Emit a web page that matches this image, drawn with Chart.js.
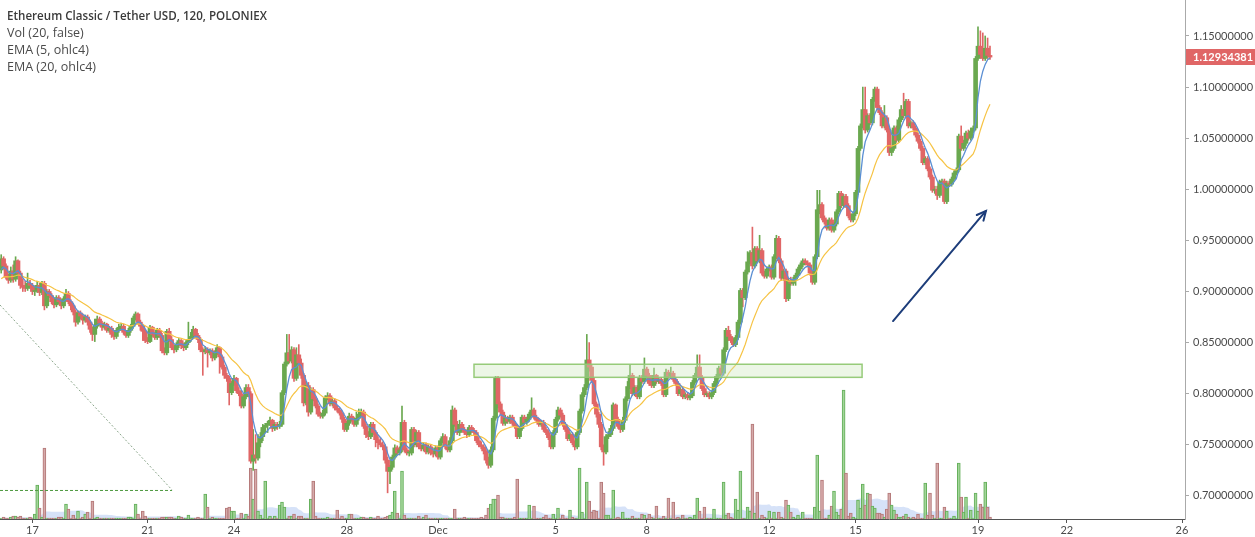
<!DOCTYPE html>
<html><head><meta charset="utf-8">
<script src="https://cdn.jsdelivr.net/npm/chart.js@4.4.0/dist/chart.umd.min.js"></script>
<style>
html,body{margin:0;padding:0;background:#fff;}
#wrap{position:relative;width:1255px;height:537px;overflow:hidden;}
canvas{position:absolute;left:0;top:0;}
.lg{position:absolute;left:7px;font-family:"Open Sans",sans-serif;font-size:12.5px;color:#4a4a4a;white-space:nowrap;line-height:14px;}
</style></head><body>
<div id="wrap"><canvas id="c" width="1255" height="537"></canvas>
<div class="lg" style="top:9px;font-weight:600;font-size:11.6px;color:#3a3a3a">Ethereum Classic / Tether USD, 120, POLONIEX</div>
<div class="lg" style="top:26px">Vol (20, false)</div>
<div class="lg" style="top:43px">EMA (5, ohlc4)</div>
<div class="lg" style="top:60px">EMA (20, ohlc4)</div>
</div>
<script>
// prices in thousandths of USDT (2h candles)
const firstOpen = 921;
const closes = [932,925,914,911,920,912,930,918,906,904,
903,908,906,900,901,906,899,908,886,900,
896,890,887,894,890,886,893,898,890,886,
880,870,879,876,872,875,870,863,858,866,
873,869,865,868,862,864,858,856,862,865,
866,860,857,862,866,874,878,870,866,861,
852,851,865,858,855,862,857,842,840,861,
853,845,843,848,852,847,845,850,853,856,
863,857,853,843,841,843,840,842,835,840,
845,836,826,818,815,801,810,815,803,800,
788,797,806,800,734,740,737,752,758,767,
769,771,774,766,770,768,770,801,829,840,
832,843,815,838,830,818,791,808,782,804,
795,788,780,778,781,796,798,790,793,786,
784,781,775,765,771,778,775,770,776,780,
782,768,760,758,770,762,755,752,750,748,
735,724,728,738,747,742,745,772,745,742,
742,765,750,762,748,746,750,743,748,742,
741,747,738,754,758,748,745,754,784,770,
762,770,765,762,760,767,764,762,754,750,
748,744,735,730,745,776,815,790,782,771,
776,773,777,771,768,758,766,777,772,775,
780,784,777,774,770,772,765,762,757,748,
762,775,784,779,770,765,756,760,752,748,
762,783,799,806,833,826,813,790,780,770,
748,743,758,760,766,789,775,768,765,774,
795,807,818,800,806,797,815,812,824,818,
810,808,818,812,814,810,799,821,817,820,
814,810,800,804,797,799,796,798,811,818,
826,816,805,799,800,797,801,810,817,825,
820,843,862,856,852,848,855,870,901,894,
919,929,938,925,942,930,940,918,915,922,
924,914,934,952,930,913,920,893,911,908,
912,916,922,926,930,928,926,918,909,934,
980,985,972,968,962,970,960,966,978,996,
984,993,984,974,970,976,997,1040,1062,1078,
1058,1072,1065,1088,1098,1080,1075,1062,1070,1058,
1036,1040,1060,1048,1068,1078,1072,1086,1062,1065,
1060,1053,1047,1040,1026,1030,1020,1012,999,1000,
994,1007,1008,988,1006,1005,1010,1016,1019,1052,
1040,1045,1055,1050,1057,1060,1128,1140,1132,1128,
1138,1131,1129.34381];
const highs = [936,934,927,917,924,926,934,931,920,912,
910,918,911,908,904,910,908,910,910,902,
902,898,893,896,896,892,895,902,900,892,
888,882,881,881,878,877,877,872,865,873,
876,875,871,870,869,866,866,860,864,868,
869,868,862,864,868,876,880,879,872,868,
863,855,867,866,860,864,864,859,845,863,
864,856,847,850,854,853,849,852,870,860,
866,864,859,855,845,846,845,844,844,842,
848,846,838,828,820,817,812,818,816,806,
803,799,809,809,802,765,760,760,762,770,
771,773,777,775,772,772,773,803,831,858,
858,846,845,845,848,834,820,812,811,806,
806,797,790,782,784,798,801,800,796,795,
788,786,783,777,773,781,780,777,782,785,
785,784,770,763,772,772,764,758,757,753,
750,738,730,740,750,749,748,788,774,747,
744,767,767,764,764,750,752,752,750,750,
744,749,749,756,761,760,750,757,788,786,
773,774,772,767,764,769,769,766,764,757,
753,750,747,738,748,778,817,817,792,784,
779,778,779,779,773,770,768,779,779,777,
782,796,786,779,776,774,774,767,764,759,
764,777,787,786,781,772,767,762,762,754,
764,785,801,809,858,850,828,815,792,782,
772,750,760,763,769,791,790,777,770,777,
797,812,828,820,808,808,818,818,835,826,
820,818,825,819,816,816,812,824,823,826,
822,816,812,806,806,801,801,800,813,820,
838,838,818,807,802,802,803,812,819,827,
828,845,864,866,858,854,857,872,903,903,
921,939,940,963,944,944,955,942,920,924,
926,926,936,955,954,932,922,922,913,914,
914,918,924,928,932,932,930,928,920,936,
999,999,987,974,970,972,972,968,980,998,
998,995,995,986,976,978,999,1042,1064,1100,
1100,1074,1074,1090,1100,1100,1082,1077,1082,1072,
1060,1042,1062,1062,1070,1082,1094,1088,1088,1067,
1067,1062,1055,1049,1042,1032,1032,1022,1014,1003,
1003,1009,1010,1010,1008,1008,1012,1018,1021,1054,
1062,1048,1057,1058,1060,1062,1130,1159,1155,1153,
1150,1148,1140];
const lows = [918,922,912,908,909,909,910,915,903,900,
900,901,903,897,896,899,896,897,882,884,
894,888,884,885,888,883,884,891,888,882,
877,866,868,873,868,870,867,860,852,851,
864,867,862,863,860,860,855,853,854,860,
862,858,855,855,860,864,872,868,862,852,
850,849,850,856,853,853,855,840,838,838,
851,843,840,841,845,844,842,843,848,851,
854,855,850,841,818,839,826,838,832,833,
838,820,824,815,812,789,799,808,801,798,
786,786,795,797,732,725,732,735,748,754,
762,762,769,763,764,765,766,768,799,827,
830,830,812,813,828,815,788,789,778,780,
793,786,778,776,776,779,794,788,788,784,
782,779,772,763,763,769,773,768,768,774,
778,766,757,755,756,760,748,746,748,745,
732,703,712,726,736,740,740,743,743,740,
739,740,748,748,746,744,744,741,741,740,
738,739,736,736,752,746,743,743,752,768,
760,759,763,760,757,758,762,760,752,748,
746,741,732,727,728,743,774,786,779,769,
769,771,771,769,766,756,756,764,770,770,
773,778,775,772,768,768,763,760,755,746,
746,760,773,777,768,763,754,754,750,745,
746,760,781,797,804,822,811,788,777,767,
745,730,741,756,758,764,773,766,762,763,
772,793,805,798,798,795,795,810,810,816,
808,806,806,810,810,808,797,797,815,815,
812,808,798,798,795,795,794,794,796,809,
816,814,803,797,797,795,795,799,808,815,
818,818,841,852,850,846,846,853,868,885,
892,917,927,922,923,928,928,916,913,913,
920,912,912,932,928,911,911,890,891,906,
906,906,914,920,924,926,924,916,907,907,
932,976,970,966,960,960,958,958,964,976,
982,982,982,972,968,968,974,995,1038,1060,
1055,1056,1063,1063,1086,1078,1073,1060,1060,1056,
1033,1033,1038,1046,1046,1066,1070,1070,1060,1060,
1058,1051,1045,1038,1024,1024,1018,1010,997,996,
990,992,1005,986,986,1003,1003,1008,1014,1017,
1038,1038,1043,1048,1048,1055,1058,1126,1128,1126,
1126,1128,1127];
// volume (thousand ETC)
const volumes = [1,2,1,1,2,3,3,2,3,1,
1,1,2,1,5,34,11,2,71,1,
1,1,1,1,2,2,1,15,10,1,
4,1,8,1,2,5,7,1,18,1,
2,1,1,1,1,1,1,1,1,1,
1,1,1,2,2,1,15,5,1,8,
3,1,1,1,1,1,1,2,2,2,
2,2,1,1,3,2,1,1,4,1,
1,1,2,1,1,25,12,1,2,1,
1,1,1,1,11,12,8,8,1,1,
6,1,5,3,51,20,50,8,4,1,
38,1,3,1,3,1,14,17,12,1,
3,3,5,1,3,3,1,1,1,20,
38,3,1,1,1,1,2,1,1,1,
9,1,3,1,1,5,5,1,1,1,
2,2,1,1,2,1,1,3,1,1,
2,3,4,7,28,6,1,48,4,1,
1,1,1,1,3,1,2,4,1,1,
1,1,1,1,1,1,1,1,1,10,
1,1,1,2,1,1,1,1,1,1,
2,1,4,11,15,20,20,24,2,2,
1,1,1,1,2,40,1,1,1,1,
14,1,13,1,1,1,2,4,1,1,
5,1,11,1,4,1,1,9,2,1,
1,51,7,1,37,18,7,9,8,1,
37,26,4,4,1,29,1,2,1,7,
1,1,1,3,1,1,1,5,4,1,
5,2,1,13,1,1,3,1,21,1,
17,1,2,1,4,1,1,2,1,4,
21,8,1,12,1,1,1,10,1,1,
1,37,4,6,2,1,20,9,48,1,
1,12,8,95,6,27,1,4,2,1,
8,1,7,1,7,2,1,19,14,7,
2,1,4,1,7,1,1,1,1,12,
64,8,39,1,1,4,13,28,7,4,
10,129,46,3,6,2,1,19,11,35,
14,26,25,13,11,6,6,5,2,10,
26,14,9,5,2,2,3,5,2,1,
2,1,5,1,1,36,4,26,4,1,
56,1,1,12,8,1,1,3,1,56,
22,7,22,1,9,1,26,8,15,12,
37,12,2];
const tickIndex = [13,61,97,144,182,231,269,320,356,407,444,492];
const tickLabels = ['17','21','24','28','Dec','5','8','12','15','19','22','26'];
const priceTicks = [0.70,0.75,0.80,0.85,0.90,0.95,1.00,1.05,1.10,1.15];
const emaSeedFast = 0.919, emaSeedSlow = 0.911;
const zone = {from:197, to:358.7, lo:0.816, hi:0.8288};
const arrow = {x1:371.6, p1:0.8711, x2:410.3, p2:0.9788};
const diag = {x1:-0.5, p1:0.8868, x2:71.2, p2:0.7058};

const K = 1000;
const opens = closes.map((c,i)=> i===0 ? firstOpen : closes[i-1]);
const up = closes.map((c,i)=> c >= opens[i]);
const src = closes.map((c,i)=> (opens[i]+highs[i]+lows[i]+c)/4/K);
function ema(s,n,seed){const a=2/(n+1);let e=seed;return s.map(v=>(e=a*v+(1-a)*e));}
const ema5 = ema(src,5,emaSeedFast), ema20 = ema(src,20,emaSeedSlow);
const volMA = volumes.map((v,i)=>{const s=volumes.slice(Math.max(0,i-19),i+1);return s.reduce((a,b)=>a+b,0)/s.length;});

const GREEN='#6aa84f', RED='#e06666';
const overlay = {
  id:'overlay',
  afterDatasetsDraw(chart){
    const {ctx, chartArea:a, scales:{x,y}} = chart;
    ctx.save();
    ctx.beginPath(); ctx.rect(a.left,a.top,a.right-a.left,a.bottom-a.top); ctx.clip();
    const zx1=x.getPixelForValue(zone.from), zx2=x.getPixelForValue(zone.to);
    const zy1=y.getPixelForValue(zone.hi), zy2=y.getPixelForValue(zone.lo);
    ctx.fillStyle='rgba(205,232,190,0.38)'; ctx.fillRect(zx1,zy1,zx2-zx1,zy2-zy1);
    ctx.strokeStyle='rgba(145,200,115,0.95)'; ctx.lineWidth=1.5; ctx.strokeRect(zx1,zy1,zx2-zx1,zy2-zy1);
    ctx.setLineDash([2,2]); ctx.lineWidth=1; ctx.strokeStyle='rgba(120,150,120,0.85)';
    ctx.beginPath(); ctx.moveTo(x.getPixelForValue(diag.x1),y.getPixelForValue(diag.p1));
    ctx.lineTo(x.getPixelForValue(diag.x2),y.getPixelForValue(diag.p2)); ctx.stroke();
    ctx.setLineDash([3,2]); ctx.strokeStyle='#4f9a40';
    ctx.beginPath(); ctx.moveTo(x.getPixelForValue(diag.x1),y.getPixelForValue(diag.p2)+0.5);
    ctx.lineTo(x.getPixelForValue(diag.x2),y.getPixelForValue(diag.p2)+0.5); ctx.stroke();
    ctx.setLineDash([]);
    const ax1=x.getPixelForValue(arrow.x1), ay1=y.getPixelForValue(arrow.p1);
    const ax2=x.getPixelForValue(arrow.x2), ay2=y.getPixelForValue(arrow.p2);
    ctx.strokeStyle='#1d3d7a'; ctx.lineWidth=2; ctx.lineCap='round';
    ctx.beginPath(); ctx.moveTo(ax1,ay1); ctx.lineTo(ax2,ay2); ctx.stroke();
    const ang=Math.atan2(ay2-ay1,ax2-ax1), L=10;
    ctx.beginPath();
    ctx.moveTo(ax2-L*Math.cos(ang-0.45),ay2-L*Math.sin(ang-0.45));
    ctx.lineTo(ax2,ay2);
    ctx.lineTo(ax2-L*Math.cos(ang+0.45),ay2-L*Math.sin(ang+0.45));
    ctx.stroke();
    ctx.restore();
  },
  afterDraw(chart){
    const {ctx, scales:{y}} = chart;
    const last = closes[closes.length-1];
    const py = y.getPixelForValue(last/K);
    ctx.save();
    ctx.fillStyle = up[up.length-1] ? GREEN : RED;
    ctx.fillRect(1186, Math.round(py)-8, 69, 16);
    ctx.fillStyle='#fff'; ctx.font='bold 11px Lato, sans-serif';
    ctx.textBaseline='middle'; ctx.textAlign='left';
    ctx.fillText((last/K).toFixed(8), 1193, Math.round(py));
    ctx.restore();
  }
};

const idx = closes.map((c,i)=>i);
new Chart(document.getElementById('c'), {
  type:'bar',
  data:{datasets:[
    {type:'line', yAxisID:'yv', data:idx.map(i=>({x:i,y:volMA[i]})), fill:'origin',
     backgroundColor:'rgba(200,216,245,0.75)', borderWidth:0, pointRadius:0, order:10},
    {type:'bar', yAxisID:'yv', data:idx.map(i=>({x:i,y:volumes[i]})), grouped:false, barThickness:3, borderWidth:1,
     backgroundColor:up.map(u=>u?'rgba(165,215,155,0.8)':'rgba(215,170,170,0.8)'),
     borderColor:up.map(u=>u?'#66b05c':'#b57a7a'), order:9},
    {type:'bar', yAxisID:'y', data:idx.map(i=>({x:i,y:[lows[i]/K,highs[i]/K]})), grouped:false, barThickness:1,
     backgroundColor:up.map(u=>u?GREEN:RED), order:5},
    {type:'bar', yAxisID:'y', data:idx.map(i=>({x:i,y:[opens[i]/K,closes[i]/K]})), grouped:false, barThickness:4, minBarLength:1,
     backgroundColor:up.map(u=>u?GREEN:RED), order:4},
    {type:'line', yAxisID:'y', data:idx.map(i=>({x:i,y:ema20[i]})), borderColor:'#f6c343', borderWidth:1.2, pointRadius:0, tension:0, order:2},
    {type:'line', yAxisID:'y', data:idx.map(i=>({x:i,y:ema5[i]})), borderColor:'#5b8fd3', borderWidth:1.3, pointRadius:0, tension:0, order:1}
  ]},
  options:{
    responsive:false, animation:false, devicePixelRatio:1,
    layout:{padding:0},
    plugins:{legend:{display:false}, tooltip:{enabled:false}},
    scales:{
      x:{type:'linear', min:-0.5, max:493.25, offset:false,
        grid:{display:true, offset:false, drawOnChartArea:false, drawTicks:true, tickLength:4, color:'#555'},
        border:{display:true, color:'#555', width:1},
        afterBuildTicks:s=>{s.ticks=tickIndex.map(v=>({value:v}));},
        afterFit:s=>{s.height=18; s.paddingLeft=0; s.paddingRight=0;},
        ticks:{autoSkip:false, maxRotation:0, padding:1, color:'#4a4a4a', font:{family:'Lato', size:11},
          callback:(v,i)=>tickLabels[i]}},
      y:{type:'linear', position:'right', min:0.6774, max:1.1852,
        grid:{display:true, offset:false, drawOnChartArea:false, drawTicks:true, tickLength:4, color:'#aaa'},
        border:{display:true, color:'#aaa'},
        afterBuildTicks:s=>{s.ticks=priceTicks.map(v=>({value:v}));},
        afterFit:s=>{s.width=70; s.paddingTop=0; s.paddingBottom=0;},
        ticks:{padding:4, color:'#4a4a4a', font:{family:'Lato', size:11}, callback:v=>v.toFixed(8)}},
      yv:{type:'linear', display:false, min:0, max:519}
    }
  },
  plugins:[overlay]
});
</script>
</body></html>
